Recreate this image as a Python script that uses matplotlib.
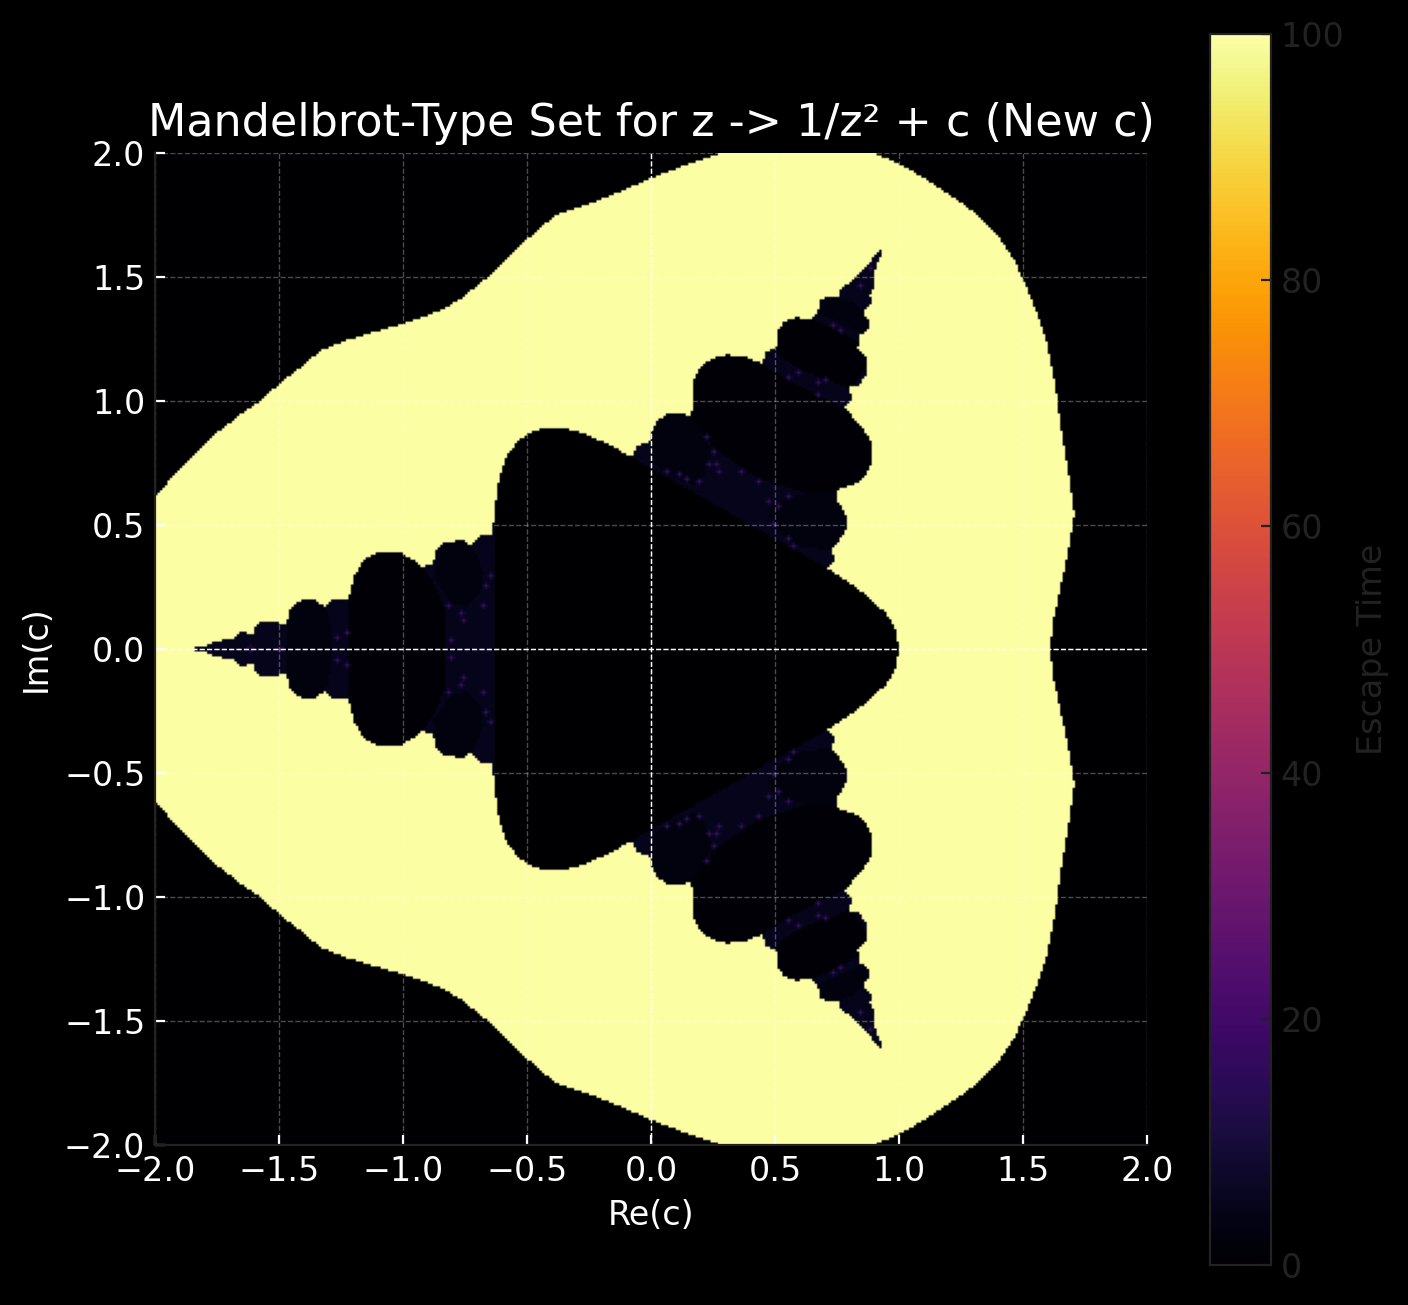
import numpy as np
import matplotlib
matplotlib.use('Agg')
import matplotlib.pyplot as plt
from matplotlib.path import Path

# outlines, upper half only (the set is mirrored in Im = 0)
outer_re = [-2.02, -2.02, -2.0, -1.94, -1.859, -1.751, -1.657, -1.577, -1.503, -1.429, -1.368, -1.324, -1.227,
            -1.079, -0.999, -0.837, -0.763, -0.663, -0.596, -0.501, -0.407, -0.374, -0.219, -0.044, 0.003, 0.130,
            0.271, 0.30, 0.88, 0.910, 0.997, 1.125, 1.246, 1.340, 1.414, 1.474, 1.501, 1.555, 1.602, 1.636, 1.656,
            1.690, 1.712, 1.690, 1.656, 1.629, 1.617, 1.612]
outer_im = [0.0, 0.60, 0.621, 0.688, 0.775, 0.876, 0.950, 1.004, 1.072, 1.128, 1.179, 1.212, 1.249,
            1.293, 1.315, 1.373, 1.421, 1.501, 1.569, 1.656, 1.737, 1.760, 1.810, 1.884, 1.905, 1.952,
            1.999, 2.03, 2.03, 2.0, 1.965, 1.891, 1.810, 1.737, 1.656, 1.562, 1.501, 1.374, 1.233, 1.058, 0.896,
            0.695, 0.548, 0.413, 0.251, 0.130, 0.036, 0.0]

inner_re = [-1.841, -1.841, -1.792, -1.758, -1.711, -1.684, -1.677, -1.651, -1.610, -1.597, -1.577, -1.530, -1.472,
            -1.462, -1.429, -1.402, -1.362, -1.315, -1.294, -1.254, -1.220, -1.216, -1.200, -1.173, -1.133, -1.106,
            -1.012, -0.965, -0.925, -0.880, -0.871, -0.837, -0.763, -0.730, -0.690, -0.640, -0.636, -0.622, -0.609,
            -0.589, -0.548, -0.501, -0.441, -0.340, -0.286, -0.206, -0.125, -0.091, -0.071, -0.058, -0.004, 0.003,
            0.023, 0.063, 0.124, 0.157, 0.171, 0.171, 0.198, 0.245, 0.305, 0.386, 0.450, 0.466, 0.511, 0.513, 0.534,
            0.587, 0.648, 0.675, 0.681, 0.722, 0.762, 0.769, 0.816, 0.856, 0.883, 0.903, 0.926, 0.933, 0.913, 0.900,
            0.903, 0.886, 0.890, 0.856, 0.883, 0.876, 0.843, 0.836, 0.872, 0.872, 0.836, 0.802, 0.812, 0.782, 0.829,
            0.883, 0.892, 0.892, 0.870, 0.829, 0.775, 0.755, 0.749, 0.782, 0.792, 0.789, 0.755, 0.733, 0.742, 0.715,
            0.789, 0.870, 0.950, 0.991, 1.001]
inner_im = [0.0, 0.009, 0.016, 0.030, 0.040, 0.043, 0.060, 0.070, 0.060, 0.090, 0.110, 0.110, 0.101,
            0.157, 0.191, 0.200, 0.200, 0.171, 0.195, 0.200, 0.195, 0.238, 0.292, 0.345, 0.379, 0.390,
            0.390, 0.362, 0.332, 0.343, 0.399, 0.429, 0.440, 0.422, 0.460, 0.462, 0.520, 0.641, 0.708,
            0.769, 0.829, 0.870, 0.890, 0.890, 0.876, 0.843, 0.802, 0.782, 0.782, 0.823, 0.840, 0.876,
            0.923, 0.948, 0.950, 0.944, 0.977, 1.078, 1.138, 1.172, 1.190, 1.179, 1.154, 1.203, 1.222, 1.286, 1.320,
            1.340, 1.331, 1.360, 1.407, 1.427, 1.425, 1.461, 1.488, 1.535, 1.562, 1.589, 1.612, 1.602, 1.555, 1.501,
            1.461, 1.434, 1.400, 1.367, 1.320, 1.286, 1.266, 1.219, 1.179, 1.105, 1.065, 1.058, 1.004, 0.977, 0.923,
            0.856, 0.816, 0.755, 0.708, 0.668, 0.652, 0.641, 0.601, 0.560, 0.520, 0.480, 0.433, 0.406, 0.359, 0.325,
            0.278, 0.218, 0.144, 0.077, 0.0]

# pure black main body
body_re = [-0.633, -0.633, -0.091, -0.091, 0.715, 1.1, 1.1]
body_im = [0.0, 1.0, 1.0, 0.782, 0.325, 0.325, 0.0]

# darker lobes inside the lighter band
lobe_a_re = [0.157, 0.211, 0.265, 0.426, 0.628, 0.762, 0.923, 0.923, 0.776, 0.547, 0.450, 0.386, 0.10]
lobe_a_im = [0.957, 0.870, 0.802, 0.695, 0.628, 0.628, 0.708, 0.977, 0.977, 1.092, 1.154, 1.25, 1.25]
lobe_b_re = [0.473, 0.487, 0.547, 0.628, 0.762, 0.816, 0.816, 0.749, 0.668, 0.587, 0.520]
lobe_b_im = [0.534, 0.574, 0.607, 0.628, 0.628, 0.574, 0.467, 0.406, 0.406, 0.419, 0.467]
lobe_c_re = [-0.004, 0.009, 0.050, 0.157, 0.211, 0.245, 0.238, 0.211, 0.177, 0.117, 0.036, -0.004]
lobe_c_im = [0.843, 0.910, 0.950, 0.957, 0.870, 0.809, 0.762, 0.695, 0.661, 0.681, 0.729, 0.762]
lobe_d_re = [0.513, 0.587, 0.695, 0.816, 0.923, 0.843, 0.749, 0.655, 0.628, 0.50]
lobe_d_im = [1.192, 1.138, 1.092, 1.051, 1.246, 1.239, 1.293, 1.333, 1.38, 1.38]
lobe_e_re = [0.675, 0.762, 0.856, 0.923, 0.923, 0.863, 0.816, 0.762, 0.681, 0.628]
lobe_e_im = [1.354, 1.320, 1.273, 1.300, 1.354, 1.367, 1.400, 1.423, 1.461, 1.38]
lobe_l1_re = [-1.22, -1.22, -0.925, -0.925, -0.878, -0.837, -0.831, -0.831]
lobe_l1_im = [0.0, 0.5, 0.5, 0.332, 0.265, 0.171, 0.009, 0.0]
lobe_l2_re = [-0.871, -0.837, -0.763, -0.730, -0.696, -0.676, -0.690, -0.743, -0.810, -0.851, -0.878]
lobe_l2_im = [0.399, 0.429, 0.440, 0.422, 0.359, 0.305, 0.225, 0.171, 0.184, 0.251, 0.278]
lobe_l3_re = [-1.475, -1.475, -1.315, -1.31, -1.295, -1.295]
lobe_l3_im = [0.0, 0.25, 0.25, 0.16, 0.09, 0.0]

# small purple spots in the band
spot_re = [0.227, 0.255, 0.238, 0.268, 0.191, 0.067, 0.113, 0.147, 0.278, 0.368, 0.439, 0.560, 0.479, 0.520, 0.497,
           0.556, 0.574, 0.597, 0.558, 0.675, 0.706, 0.677, 0.735, 0.769, 0.852, 0.890,
           -0.815, -0.763, -0.757, -0.680, -0.665, -0.649, -0.804, -1.265, -1.227, -1.622, -1.501]
spot_im = [0.856, 0.792, 0.745, 0.745, 0.681, 0.718, 0.706, 0.688, 0.715, 0.719, 0.681, 0.617, 0.601, 0.577, 0.504,
           0.449, 0.413, 1.114, 1.098, 1.075, 1.085, 1.027, 1.306, 1.289, 1.468, 1.535,
           0.173, 0.144, 0.114, 0.177, 0.255, 0.292, 0.036, 0.046, 0.069, 0.009, 0.009]

# escape time levels of each region
level_outside = 0
level_annulus = 100
level_band = 5
level_body = 0
level_lobe = 2.5
level_big_lobe = 1
level_spot = 20
level_halo = 9

x_ticks = [-2.0, -1.5, -1.0, -0.5, 0.0, 0.5, 1.0, 1.5, 2.0]
y_ticks = [-2.0, -1.5, -1.0, -0.5, 0.0, 0.5, 1.0, 1.5, 2.0]
cbar_ticks = [0, 20, 40, 60, 80, 100]

N = 400
re = np.linspace(-2, 2, N)
im = np.linspace(-2, 2, N)
X, Y = np.meshgrid(re, im)
pts = np.column_stack([X.ravel(), np.abs(Y).ravel()])


def inside(xs, ys):
    return Path(np.column_stack([xs, ys])).contains_points(pts).reshape(X.shape)


inner = inside(inner_re, inner_im)
escape = np.full(X.shape, float(level_outside))
escape[inside(outer_re, outer_im)] = level_annulus
escape[inner] = level_band
for xs, ys, lev in [(lobe_a_re, lobe_a_im, level_big_lobe), (lobe_b_re, lobe_b_im, level_lobe),
                    (lobe_c_re, lobe_c_im, level_lobe), (lobe_d_re, lobe_d_im, level_big_lobe),
                    (lobe_e_re, lobe_e_im, level_lobe), (lobe_l1_re, lobe_l1_im, level_big_lobe),
                    (lobe_l2_re, lobe_l2_im, level_lobe), (lobe_l3_re, lobe_l3_im, level_lobe),
                    (body_re, body_im, level_body)]:
    escape[inside(xs, ys) & inner] = lev

for sx, sy in zip(spot_re, spot_im):
    i = np.argmin(np.abs(re - sx))
    for j in [np.argmin(np.abs(im - sy)), np.argmin(np.abs(im + sy))]:
        escape[j - 1:j + 2, i] = level_halo
        escape[j, i - 1:i + 2] = level_halo
        escape[j, i] = level_spot

dark = '#222222'

fig = plt.figure(figsize=(7.04, 6.525), dpi=200, facecolor='black')
ax = fig.add_axes([155 / 1408, 160 / 1305, 992 / 1408, 992 / 1305], facecolor='black')
img = ax.imshow(escape, extent=[-2, 2, -2, 2], origin='lower', cmap='inferno', vmin=0, vmax=100)

ax.set_xticks(x_ticks)
ax.set_yticks(y_ticks)
ax.tick_params(colors='white', direction='in', labelsize=12)
ax.grid(True, color='white', alpha=0.3, linestyle='--', linewidth=0.5)
ax.axhline(0, color='white', linestyle='--', linewidth=0.5)
ax.axvline(0, color='white', linestyle='--', linewidth=0.5)
for side in ['top', 'right']:
    ax.spines[side].set_visible(False)
for side in ['left', 'bottom']:
    ax.spines[side].set_color(dark)

ax.set_xlabel('Re(c)', color='white', fontsize=12)
ax.set_ylabel('Im(c)', color='white', fontsize=12)
ax.set_title('Mandelbrot-Type Set for z -> 1/z² + c (New c)', color='white', fontsize=16)

cax = fig.add_axes([1210 / 1408, 40 / 1305, 61 / 1408, 1231 / 1305])
cbar = fig.colorbar(img, cax=cax)
cbar.set_ticks(cbar_ticks)
cbar.outline.set_edgecolor(dark)
cax.tick_params(colors=dark, direction='in', labelsize=12)
cbar.set_label('Escape Time', color=dark, fontsize=12)

fig.savefig('out.png', dpi=200, facecolor='black')
